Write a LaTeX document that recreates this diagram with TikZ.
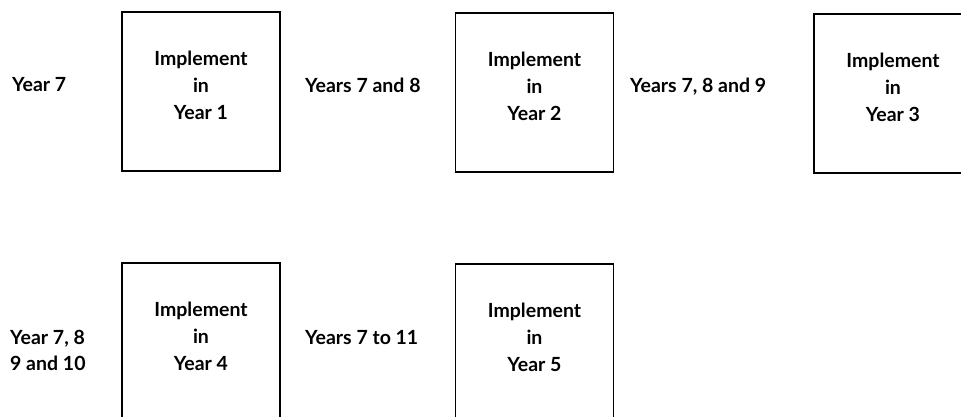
\documentclass[tikz,border=0pt]{standalone}
\usepackage{fontspec}
\setmainfont{Lato}
\begin{document}
\begin{tikzpicture}[x=1pt,y=-1pt,
  box/.style={draw=black, line width=1.6pt, minimum width=158pt, minimum height=159pt, inner sep=0pt},
  boxtext/.style={align=center, inner sep=0pt, font=\bfseries\fontsize{19.5}{27}\selectfont},
  lab/.style={inner sep=0pt, align=left, font=\bfseries\fontsize{19.5}{26}\selectfont}]
\clip (0,0) rectangle (961,417);
\fill[white] (0,0) rectangle (961,417);
% boxes
\node[box] (b1) at (201,91.5) {};
\node[box] (b2) at (534.5,92.5) {};
\node[box] (b3) at (893,93.5) {};
\node[box] (b4) at (201,342.5) {};
\node[box] (b5) at (534.5,343.5) {};
% box texts
\node[boxtext, yshift=6pt] (t1) at (b1.center) {Implement\\in\\Year 1};
\node[boxtext, yshift=6pt] (t2) at (b2.center) {Implement\\in\\Year 2};
\node[boxtext, yshift=6pt] (t3) at (b3.center) {Implement\\in\\Year 3};
\node[boxtext, yshift=6pt] (t4) at (b4.center) {Implement\\in\\Year 4};
\node[boxtext, yshift=6pt] (t5) at (b5.center) {Implement\\in\\Year 5};
% labels
\node[lab, anchor=base west] (l1) at (12,92) {Year 7};
\node[lab, anchor=base west] (l2) at (305,93) {Years 7 and 8};
\node[lab, anchor=base west] (l3) at (630,93) {Years 7, 8 and 9};
\node[lab, anchor=west] (l4) at (10,350) {Year 7, 8\\9 and 10};
\node[lab, anchor=base west] (l5) at (305,344) {Years 7 to 11};
\end{tikzpicture}
\end{document}
